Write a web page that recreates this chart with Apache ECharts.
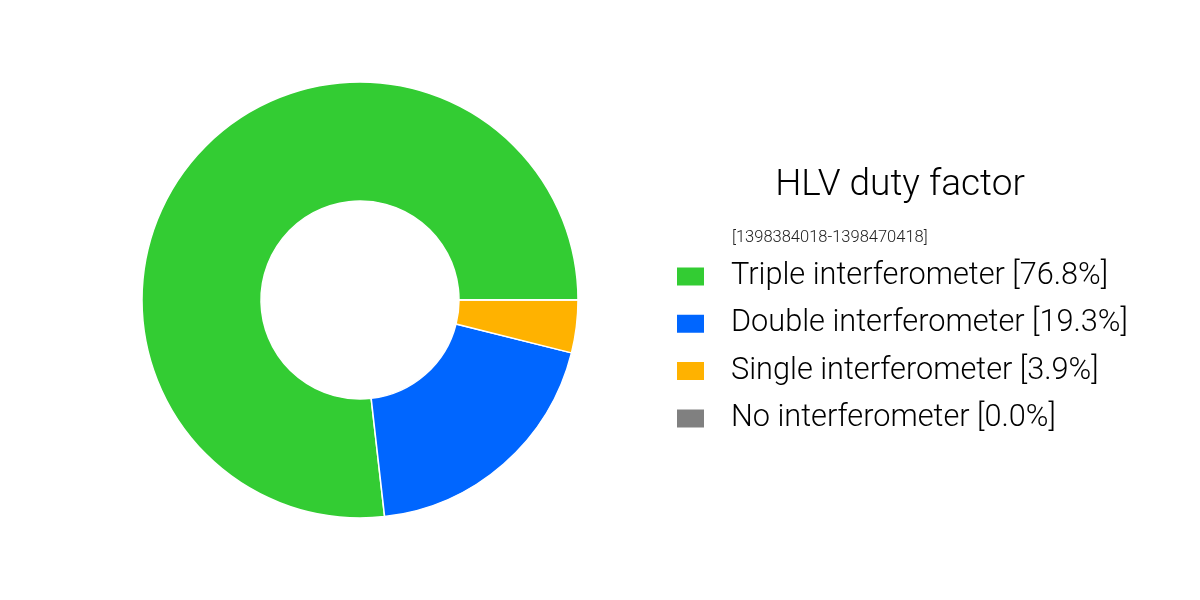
<!DOCTYPE html>
<html>
<head>
<meta charset="utf-8">
<script src="https://cdn.jsdelivr.net/npm/echarts@6/dist/echarts.min.js"></script>
<style>html,body{margin:0;padding:0;background:#fff}#c{width:1200px;height:600px}</style>
</head>
<body>
<div id="c"></div>
<script>
const categories = ['Triple interferometer', 'Double interferometer', 'Single interferometer', 'No interferometer'];
const values = [76.8, 19.3, 3.9, 0.0];
const colors = ['#33cc33', '#0066ff', '#ffb200', '#808080'];
const titleText = 'HLV duty factor';
const subtitleText = '[1398384018-1398470418]';

const chart = echarts.init(document.getElementById('c'), null, {renderer: 'canvas'});
const pctMap = {};
categories.forEach((c, i) => { pctMap[c] = values[i].toFixed(1) + '%'; });

chart.setOption({
  animation: false,
  backgroundColor: '#ffffff',
  title: [
    {text: titleText, left: 895, top: 162, textAlign: 'center',
     textStyle: {fontFamily: 'Roboto', fontWeight: 300, fontSize: 37, color: '#000'}},
    {text: subtitleText, left: 727, top: 224,
     textStyle: {fontFamily: 'Roboto', fontWeight: 300, fontSize: 16.5, color: '#222'}}
  ],
  legend: {
    orient: 'vertical',
    left: 670,
    top: 256,
    itemWidth: 29,
    itemHeight: 20,
    itemGap: 16.3,
    icon: 'rect',
    data: categories,
    formatter: name => name + ' [' + pctMap[name] + ']',
    textStyle: {fontFamily: 'Roboto', fontWeight: 300, fontSize: 30.7, color: '#000', lineHeight: 30, padding: [0, 0, 0, 21]}
  },
  series: [{
    type: 'pie',
    center: [360, 300],
    radius: [99, 218],
    startAngle: 0,
    clockwise: false,
    label: {show: false},
    labelLine: {show: false},
    emphasis: {disabled: true},
    itemStyle: {borderColor: '#ffffff', borderWidth: 1.5},
    data: categories.map((c, i) => ({name: c, value: values[i], itemStyle: {color: colors[i]}}))
  }]
});
</script>
</body>
</html>
